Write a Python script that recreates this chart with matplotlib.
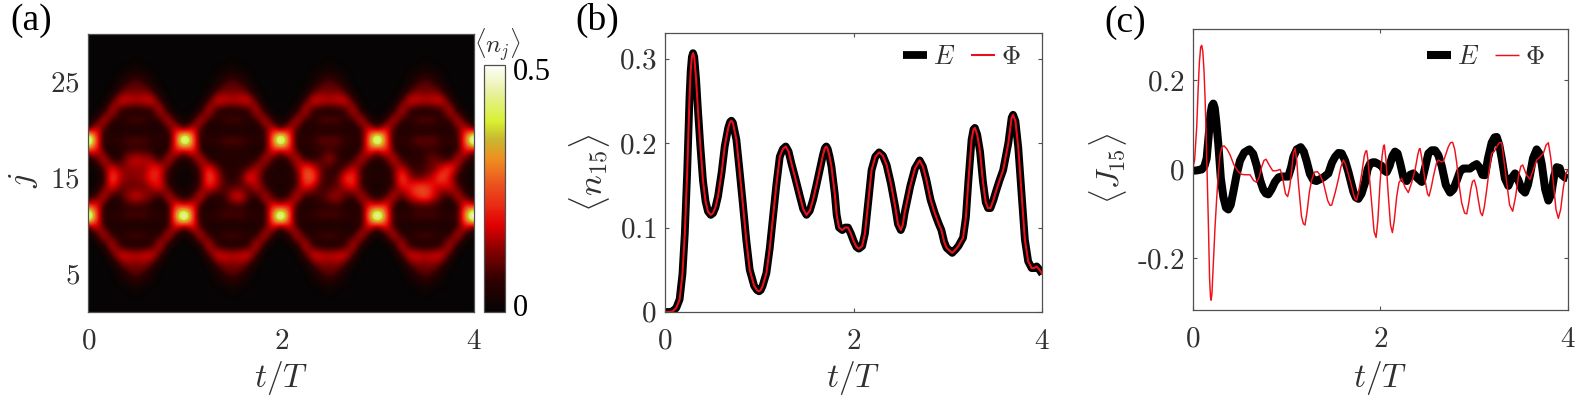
import numpy as np
import matplotlib
matplotlib.use("Agg")
import matplotlib.pyplot as plt
from matplotlib.colors import LinearSegmentedColormap

W, H = 1578, 396
plt.rcParams['mathtext.fontset'] = 'cm'
plt.rcParams['font.family'] = ['Liberation Serif', 'DejaVu Serif']

# ---------- panel (a): <n_j>, hundredths, columns are t/T = k/12, k = 0..48 ----------
row_bg = [0]*49
j30 = row_bg
j29 = row_bg
j28 = row_bg
j27 = [0,0,0,0,0,0,1,0,0,0,0,0, 0,0,0,0,0,0,1,0,0,0,0,0, 0,0,0,0,0,0,1,0,0,0,0,0, 0,0,0,0,0,0,1,0,0,0,0,0, 0]
j26 = [0,0,0,0,1,2,3,2,1,0,0,0, 0,0,0,0,1,2,3,2,1,0,0,0, 0,0,0,0,1,2,3,2,1,0,0,0, 0,0,0,0,1,2,3,2,1,0,0,0, 0]
j25 = [0,0,0,0,2,7,10,7,2,0,0,0, 0,0,0,0,2,7,10,7,2,0,0,0, 0,0,0,0,2,7,10,7,2,0,0,0, 0,0,0,0,2,7,10,7,2,0,0,0, 0]
j24 = [0,0,0,1,8,12,10,12,8,1,0,0, 0,0,0,1,8,12,10,12,8,1,0,0, 0,0,0,1,8,12,10,12,8,1,0,0, 0,0,0,1,8,12,10,12,8,1,0,0, 0]
j23 = [0,0,0,8,20,18,17,18,20,8,0,0, 0,0,0,8,20,18,17,18,20,8,0,0, 0,0,0,8,20,18,17,18,20,8,0,0, 0,0,0,8,20,18,17,18,20,8,0,0, 0]
j22 = [0,0,4,20,5,3,2,3,5,20,4,0, 0,0,4,20,5,3,2,3,5,20,4,0, 0,0,4,20,5,3,2,3,5,20,4,0, 0,0,4,20,5,3,2,3,5,20,4,0, 0]
j21 = [0,5,20,6,5,9,10,9,5,6,20,5, 0,5,20,6,5,9,10,9,5,6,20,5, 0,5,20,6,6,10,11,10,6,6,20,5, 0,5,20,6,6,10,11,10,6,6,20,5, 0]
j20 = [5,22,6,2,3,2,1,2,3,2,6,22, 8,22,6,2,3,2,1,2,3,2,6,22, 6,22,6,2,4,3,2,3,4,2,6,22, 8,24,6,2,4,3,2,3,4,2,8,22, 8]
j19 = [72,26,3,8,6,10,10,10,6,8,3,22, 72,30,4,8,6,10,10,10,6,8,4,28, 72,24,4,8,7,11,11,11,7,8,4,28, 72,26,5,8,7,11,11,11,7,8,6,28, 72]
j18 = [22,24,5,1,5,5,5,5,5,1,5,24, 16,26,5,1,5,5,5,5,5,1,5,24, 16,24,5,2,5,6,6,6,5,2,6,26, 16,26,7,2,5,6,6,6,5,3,5,24, 14]
j17 = [3,8,20,4,5,15,18,16,13,4,19,8, 3,8,20,5,3,4,5,4,4,5,19,8, 3,8,20,5,5,8,16,8,4,6,19,8, 3,8,20,6,5,5,8,12,7,5,19,9, 3]
j16 = [0,1,10,20,12,13,13,12,20,20,8,2, 1,2,10,22,12,5,5,6,8,18,8,3, 3,3,11,26,20,10,6,5,9,18,8,3, 3,3,10,18,8,6,8,10,18,26,12,3, 2]
j15 = [0,1,4,28,16,12,13,14,24,18,4,2, 1,2,7,28,18,7,5,8,24,14,5,4, 5,4,7,27,28,9,7,8,24,24,7,4, 5,4,7,28,14,9,12,18,28,16,5,2, 1]
j14 = [0,1,10,20,10,10,10,10,14,20,8,2, 1,2,10,20,14,8,9,9,8,18,8,3, 3,3,10,20,14,7,7,10,14,20,8,3, 3,3,8,18,20,27,25,18,14,20,10,3, 1]
j13 = [3,8,20,4,6,15,19,15,10,4,19,8, 3,8,20,5,4,7,18,21,8,5,19,8, 3,8,20,5,6,8,13,16,8,5,19,8, 3,8,20,7,16,22,26,18,9,5,19,8, 3]
j12 = [22,24,5,1,5,5,5,5,5,1,5,26, 18,24,5,1,5,5,5,5,5,1,5,24, 16,24,5,2,5,5,5,5,5,2,5,24, 18,26,5,1,5,5,5,5,5,1,5,26, 18]
j11 = [72,26,3,8,6,10,9,10,6,8,4,34, 72,24,3,8,6,10,9,10,6,8,4,30, 72,24,3,8,6,10,9,10,6,8,4,30, 72,28,6,8,6,10,9,10,6,8,6,34, 72]
j10 = [5,22,6,2,3,2,1,2,3,2,6,22, 8,24,6,2,3,2,1,2,3,2,6,22, 6,22,6,2,3,2,1,2,3,2,6,22, 8,24,6,2,3,2,1,2,3,2,6,22, 8]
j09 = [0,5,20,6,5,9,10,9,5,6,20,5, 0,5,20,6,5,9,10,9,5,6,20,5, 0,5,20,6,5,9,10,9,5,6,20,5, 0,5,20,6,5,9,10,9,5,6,20,5, 0]
j08 = [0,0,4,20,5,2,2,2,5,20,4,0, 0,0,4,20,5,2,2,2,5,20,4,0, 0,0,4,20,5,2,2,2,5,20,4,0, 0,0,4,20,5,2,2,2,5,20,4,0, 0]
j07 = [0,0,0,8,20,18,17,18,20,8,0,0, 0,0,0,8,20,18,17,18,20,8,0,0, 0,0,0,8,20,18,17,18,20,8,0,0, 0,0,0,8,20,18,17,18,20,8,0,0, 0]
j06 = [0,0,0,1,8,13,11,13,8,1,0,0, 0,0,0,1,8,13,11,13,8,1,0,0, 0,0,0,1,8,13,11,13,8,1,0,0, 0,0,0,1,8,13,11,13,8,1,0,0, 0]
j05 = [0,0,0,0,2,7,10,7,2,0,0,0, 0,0,0,0,2,7,10,7,2,0,0,0, 0,0,0,0,2,7,10,7,2,0,0,0, 0,0,0,0,2,7,10,7,2,0,0,0, 0]
j04 = [0,0,0,0,1,2,4,2,1,0,0,0, 0,0,0,0,1,2,4,2,1,0,0,0, 0,0,0,0,1,2,4,2,1,0,0,0, 0,0,0,0,1,2,4,2,1,0,0,0, 0]
j03 = [0,0,0,0,0,0,1,0,0,0,0,0, 0,0,0,0,0,0,1,0,0,0,0,0, 0,0,0,0,0,0,1,0,0,0,0,0, 0,0,0,0,0,0,1,0,0,0,0,0, 0]
j02 = row_bg
j01 = row_bg
heat_rows = [j01, j02, j03, j04, j05, j06, j07, j08, j09, j10, j11, j12, j13, j14, j15,
             j16, j17, j18, j19, j20, j21, j22, j23, j24, j25, j26, j27, j28, j29, j30]

# ---------- panel (b): (t/T, <n_15>) ----------
n15_points = [(0,0),(.05,0),(.085,.001),(.12,.005),(.155,.015),(.185,.045),(.21,.093),(.235,.165),(.26,.255),(.272,.285),
 (.285,.302),(.297,.3065),(.31,.302),(.33,.275),(.35,.238),(.375,.196),(.403,.155),(.43,.131),(.456,.119),(.485,.115),
 (.509,.117),(.535,.124),(.562,.137),(.6,.165),(.633,.196),(.67,.218),(.69,.225),(.704,.2265),(.72,.224),(.74,.213),(.757,.204),
 (.79,.168),(.828,.125),(.862,.085),(.898,.05),(.945,.031),(.975,.026),(.997,.0245),(1.015,.026),(1.035,.031),(1.075,.046),
 (1.11,.075),(1.146,.113),(1.18,.15),(1.217,.184),(1.25,.193),(1.28,.196),(1.31,.19),(1.34,.176),(1.385,.157),(1.43,.137),
 (1.465,.122),(1.5,.115),(1.535,.12),(1.57,.133),(1.605,.15),(1.64,.168),(1.675,.186),(1.695,.194),(1.71,.196),(1.725,.193),
 (1.745,.184),(1.765,.172),(1.8,.14),(1.82,.115),(1.845,.1),(1.88,.097),(1.91,.1),(1.94,.1),(1.97,.093),(2.0,.084),(2.03,.077),
 (2.055,.075),(2.09,.078),(2.12,.093),(2.155,.13),(2.19,.168),(2.23,.184),(2.27,.189),(2.31,.185),(2.35,.174),(2.395,.152),
 (2.44,.125),(2.47,.104),(2.5,.097),(2.52,.103),(2.54,.117),(2.57,.133),(2.6,.149),(2.65,.17),(2.70,.1795),(2.735,.172),(2.77,.157),
 (2.815,.133),(2.86,.117),(2.9,.105),(2.93,.097),(2.96,.083),(2.985,.076),(3.045,.07),(3.08,.074),(3.11,.078),(3.16,.088),(3.19,.112),
 (3.215,.153),(3.25,.204),(3.27,.216),(3.285,.218),(3.31,.21),(3.34,.19),(3.37,.155),(3.40,.13),(3.425,.123),(3.45,.123),(3.48,.132),
 (3.515,.145),(3.55,.157),(3.585,.168),(3.64,.2),(3.675,.23),(3.69,.2335),(3.715,.226),(3.745,.195),(3.78,.14),(3.815,.086),(3.85,.06),
 (3.887,.052),(3.915,.052),(3.94,.054),(3.97,.05),(4.0,.045)]

# ---------- panel (c): (t/T, <J_15>) ----------
J15_E_points = [(0,-.003),(.05,-.002),(.096,0),(.125,.007),(.149,.025),(.17,.075),(.19,.125),(.205,.143),(.22,.148),(.235,.138),
 (.25,.11),(.274,.055),(.30,-.02),(.327,-.062),(.355,-.086),(.38,-.09),(.405,-.08),(.434,-.05),(.47,-.01),(.505,.02),(.55,.038),
 (.604,.045),(.645,.035),(.683,.008),(.72,-.025),(.754,-.046),(.78,-.054),(.807,-.056),(.84,-.045),(.878,-.028),(.915,-.018),
 (.949,-.016),(1.02,-.016),(1.05,.005),(1.074,.028),(1.11,.045),(1.152,.05),(1.185,.04),(1.216,.018),(1.25,-.01),(1.287,-.024),
 (1.32,-.026),(1.358,-.022),(1.40,-.017),(1.447,-.009),(1.485,.015),(1.518,.028),(1.555,.037),(1.589,.036),(1.625,.02),(1.66,-.005),
 (1.69,-.03),(1.714,-.05),(1.74,-.063),(1.767,-.066),(1.80,-.055),(1.838,-.03),(1.865,0),(1.892,.013),(1.92,.016),(1.945,.016),
 (1.98,.012),(2.016,.008),(2.04,-.002),(2.069,-.006),(2.10,.008),(2.13,.03),(2.158,.04),(2.185,.036),(2.212,.015),(2.25,-.02),
 (2.283,-.026),(2.32,-.012),(2.354,-.009),(2.40,-.02),(2.443,-.028),(2.48,.005),(2.514,.036),(2.55,.043),(2.585,.043),(2.62,.032),
 (2.656,.008),(2.70,-.035),(2.745,-.052),(2.78,-.045),(2.816,-.025),(2.85,-.005),(2.887,.002),(2.958,.002),(2.995,.008),(3.029,.012),
 (3.06,.004),(3.09,-.012),(3.118,-.013),(3.15,.025),(3.189,.06),(3.22,.072),(3.243,.073),(3.27,.055),(3.296,.025),(3.33,-.02),
 (3.367,-.037),(3.40,-.02),(3.438,-.009),(3.475,-.025),(3.51,-.045),(3.545,-.052),(3.575,-.035),(3.598,-.012),(3.63,.025),(3.669,.045),
 (3.70,.035),(3.723,.012),(3.76,-.045),(3.794,-.07),(3.825,-.055),(3.855,-.015),(3.883,.005),(3.915,.003),(3.936,-.012),(3.97,-.018),(4.0,-.02)]

J15_P_points = [(0,.002),(.02,.02),(.043,.096),(.058,.18),(.071,.24),(.085,.275),(.096,.279),(.108,.265),(.121,.22),(.132,.16),(.142,.09),
 (.155,-.02),(.167,-.12),(.18,-.245),(.19,-.287),(.196,-.294),(.205,-.28),(.22,-.21),(.238,-.13),(.256,-.065),(.275,-.005),(.292,.034),
 (.312,.05),(.334,.053),(.365,.046),(.398,.033),(.44,.01),(.487,-.005),(.52,-.011),(.558,-.012),(.612,-.012),(.65,-.025),(.683,-.029),
 (.71,-.017),(.736,.006),(.76,.02),(.782,.023),(.81,.012),(.853,-.003),(.89,-.003),(.932,0),(.95,-.01),(.967,-.028),(.99,-.055),(1.013,-.061),
 (1.035,-.04),(1.056,-.001),(1.075,.037),(1.092,.047),(1.11,.02),(1.127,-.03),(1.16,-.105),(1.18,-.122),(1.198,-.125),(1.22,-.095),
 (1.245,-.05),(1.269,-.024),(1.30,-.006),(1.33,-.005),(1.36,-.013),(1.394,-.03),(1.44,-.07),(1.465,-.081),(1.483,-.08),(1.52,-.052),
 (1.554,-.022),(1.58,.005),(1.607,.021),(1.63,.012),(1.678,-.024),(1.715,-.055),(1.735,-.068),(1.749,-.069),(1.775,-.045),(1.803,-.009),
 (1.83,.03),(1.845,.041),(1.856,.042),(1.87,.02),(1.89,-.03),(1.909,-.08),(1.935,-.14),(1.956,-.153),(1.975,-.115),(1.998,-.031),(2.02,.03),
 (2.035,.052),(2.044,.055),(2.06,.025),(2.087,-.06),(2.11,-.125),(2.13,-.142),(2.15,-.115),(2.176,-.061),(2.2,-.03),(2.229,-.02),(2.265,-.04),
 (2.3,-.052),(2.335,-.03),(2.372,-.001),(2.4,.032),(2.415,.045),(2.425,.047),(2.44,.03),(2.478,-.024),(2.505,-.055),(2.521,-.06),(2.545,-.04),
 (2.567,-.016),(2.6,.014),(2.62,.021),(2.65,.017),(2.674,.018),(2.7,.034),(2.727,.051),(2.75,.06),(2.773,.061),(2.795,.045),(2.816,.015),
 (2.845,-.04),(2.869,-.075),(2.9,-.098),(2.923,-.1),(2.945,-.075),(2.965,-.046),(2.985,-.027),(3.004,-.024),(3.025,-.04),(3.047,-.069),
 (3.07,-.097),(3.09,-.104),(3.11,-.085),(3.136,-.046),(3.16,-.005),(3.189,.036),(3.215,.04),(3.243,.051),(3.27,.06),(3.296,.06),(3.32,.02),
 (3.349,-.03),(3.38,-.08),(3.413,-.094),(3.445,-.06),(3.474,-.016),(3.5,.007),(3.52,.01),(3.56,-.012),(3.598,-.022),(3.635,0),(3.669,.021),
 (3.70,.027),(3.74,.036),(3.77,.055),(3.794,.06),(3.82,.025),(3.847,-.03),(3.875,-.09),(3.9,-.11),(3.925,-.09),(3.954,-.04),(3.98,-.01),(4.0,-.001)]

# colour table of the colour bar
cb_pos = [0, .13, .24, .35, .43, .53, .62, .70, .77, .89, 1]
cb_col = ['#060404', '#300000', '#800000', '#e00000', '#e82a14', '#ec5a20', '#ee9020',
          '#c8b830', '#d8f030', '#e8f0a0', '#ffffff']
cmap = LinearSegmentedColormap.from_list('nj', list(zip(cb_pos, cb_col)), N=256)

EDGE = '#505050'
TXT = '#303030'


def box(x0, y0, x1, y1):
    return [x0 / W, 1 - y1 / H, (x1 - x0) / W, (y1 - y0) / H]


def style(ax, xt, yt, ylabs):
    ax.set_xlim(0, 4)
    ax.set_xticks(xt)
    ax.set_xticklabels([f'${v}$' for v in xt])
    ax.set_yticks(yt)
    ax.set_yticklabels(ylabs)
    ax.tick_params(direction='in', length=3, width=0.8, color=EDGE, labelsize=21,
                   labelcolor=TXT, top=True, right=True)
    ax.tick_params(axis='x', pad=12)
    ax.tick_params(axis='y', pad=6)
    for s in ax.spines.values():
        s.set_color(EDGE)
        s.set_linewidth(0.9)


def ftext(x, y, s, **kw):
    kw.setdefault('ha', 'center')
    kw.setdefault('va', 'center')
    kw.setdefault('color', TXT)
    fig.text(x / W, 1 - y / H, s, **kw)


fig = plt.figure(figsize=(W / 100, H / 100), dpi=100)

# (a)
axa = fig.add_axes(box(88.3, 34, 474, 312))
im = axa.imshow(np.array(heat_rows) / 100, origin='lower', aspect='auto', cmap=cmap, vmin=0, vmax=0.5,
                extent=(-1 / 24, 4 + 1 / 24, 0.5, 30.5), interpolation='bicubic')
axa.set_ylim(1, 30)
style(axa, [0, 2, 4], [5, 15, 25], ['$5$', '$15$', '$25$'])
axa.tick_params(length=0)
cax = fig.add_axes(box(484, 64.5, 505, 312))
cb = fig.colorbar(im, cax=cax)
cb.set_ticks([])
cb.outline.set_edgecolor(EDGE)
cb.outline.set_linewidth(0.9)
ftext(513, 73, '0.5', ha='left', color='black', fontsize=22)
ftext(513, 308, '0', ha='left', color='black', fontsize=22)
ftext(497, 45, r'$\langle n_j\rangle$', color=TXT, fontsize=18)

# (b)
t_b, n_b = zip(*n15_points)
axb = fig.add_axes(box(665, 33.3, 1042.3, 312))
axb.plot(t_b, n_b, color='black', lw=5.6, label='$E$', solid_joinstyle='round', solid_capstyle='butt')
axb.plot(t_b, n_b, color='#e8101c', lw=1.5, label=r'$\Phi$', solid_joinstyle='round', solid_capstyle='butt')
axb.set_ylim(0, 0.33)
style(axb, [0, 2, 4], [0, .1, .2, .3], ['$0$', '$0.1$', '$0.2$', '$0.3$'])

# (c)
t_E, J_E = zip(*J15_E_points)
t_P, J_P = zip(*J15_P_points)
axc = fig.add_axes(box(1192.7, 29.3, 1567.7, 310))
axc.plot(t_E, J_E, color='black', lw=5.8, label='$E$', solid_joinstyle='round', solid_capstyle='butt')
axc.plot(t_P, J_P, color='#f0101c', lw=1.05, label=r'$\Phi$', solid_joinstyle='round', solid_capstyle='butt')
axc.set_ylim(-0.316, 0.315)
style(axc, [0, 2, 4], [-.2, 0, .2], [r'$\mathrm{\text{-}}0.2$', '$0$', '$0.2$'])

for ax, anchor in ((axb, (1018 + 11, 38)), (axc, (1543 + 10, 38))):
    ax.legend(loc='upper right', bbox_to_anchor=(anchor[0] / W, 1 - anchor[1] / H),
              bbox_transform=fig.transFigure, ncols=2, frameon=False, fontsize=19, handlelength=0.9,
              handletextpad=0.25, columnspacing=0.6, borderaxespad=0, borderpad=0.3, labelcolor=TXT)

# axis labels
for x in (281, 853, 1380):
    ftext(x, 378, r'$t/T$', fontsize=24)
ftext(24, 180, r'$j$', fontsize=24, rotation=90)
ftext(590, 173, r'$\langle n_{15}\rangle$', fontsize=25, rotation=90)
ftext(1108, 168, r'$\langle J_{15}\rangle$', fontsize=23, rotation=90)

# panel labels
ftext(31, 21, '(a)', color='black', fontsize=27)
ftext(597, 20, '(b)', color='black', fontsize=27)
ftext(1125, 23, '(c)', color='black', fontsize=27)

fig.savefig('out.png', dpi=100)
